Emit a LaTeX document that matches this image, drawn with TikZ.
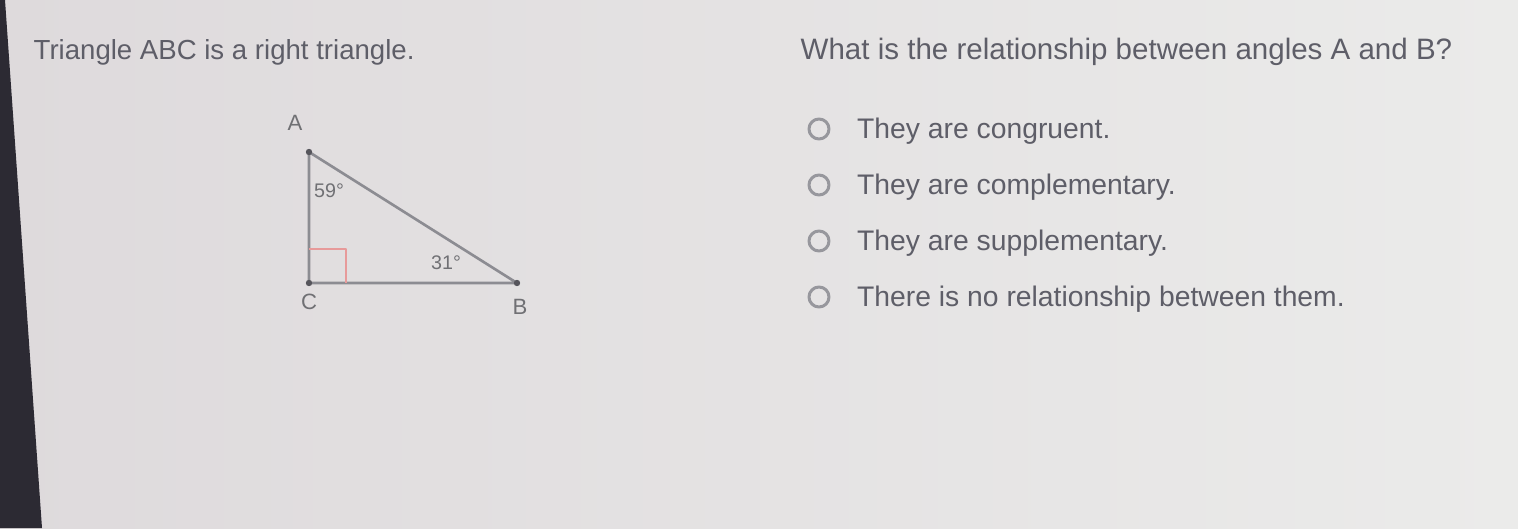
\documentclass[tikz,border=0pt]{standalone}
\usepackage{fontspec}
\setmainfont{Liberation Sans}
\usetikzlibrary{positioning}
\definecolor{bgl}{HTML}{DEDADC}
\definecolor{bgr}{HTML}{EBEBEA}
\definecolor{edge}{HTML}{2C2A33}
\definecolor{ink}{HTML}{5E5E68}
\definecolor{lbl}{HTML}{707074}
\definecolor{side}{HTML}{8C8C92}
\definecolor{rmark}{HTML}{E79A9A}
\begin{document}
\begin{tikzpicture}[line join=round, line cap=round,
	font=\fontsize{8.05pt}{9pt}\selectfont,
	txt/.style={text=ink, inner sep=0pt, anchor=west},
	lbl/.style={text=lbl, inner sep=0pt, font=\fontsize{6.3pt}{7pt}\selectfont},
	ang/.style={text=lbl, inner sep=0pt, font=\fontsize{5.6pt}{6pt}\selectfont},
	radio/.style={circle, draw=side!90, line width=0.85pt, minimum size=0.2cm, inner sep=0pt}]
	\useasboundingbox (0,0) rectangle (15.18,5.28);
	\shade[left color=bgl, right color=bgr] (0,0) rectangle (15.18,5.28);
	\fill[edge] (0,0) -- (0.42,0) -- (0.05,5.28) -- (0,5.28) -- cycle;
	
	\node[txt, font=\fontsize{7.85pt}{9pt}\selectfont] (title) at (0.33,4.76) {Triangle ABC is a right triangle.};
	\node[txt, font=\fontsize{8.4pt}{9pt}\selectfont] (quest) at (8.00,4.76) {What is the relationship between angles A and B?};
	
	\path
	(3.09,3.76) coordinate (A)
	(5.17,2.45) coordinate (B)
	(3.09,2.45) coordinate (C);
	
	\draw[side, line width=0.75pt] (A)--(B)--(C)--cycle;
	\draw[rmark, line width=0.7pt, line cap=butt] (C) ++(0,0.34) -- ++(0.37,0) -- ++(0,-0.34);
	
	\foreach \x/\p in {A/{2.95,4.05}, B/{5.20,2.21}, C/{3.09,2.26}}
	{\fill[edge!80] (\x) circle (0.032);
	\node[lbl] (l\x) at (\p) {\x};}
	\node[ang] (angA) at (3.29,3.37) {59°};
	\node[ang] (angB) at (4.46,2.65) {31°};
	
	\foreach \i/\y/\t in {1/3.99/They are congruent., 2/3.43/They are complementary., 3/2.87/They are supplementary., 4/2.31/There is no relationship between them.}
	{\node[radio] (r\i) at (8.19,\y) {};
	\node[txt, right=0.26 of r\i, yshift=-0.02cm] (o\i) {\t};}
\end{tikzpicture}
\end{document}
